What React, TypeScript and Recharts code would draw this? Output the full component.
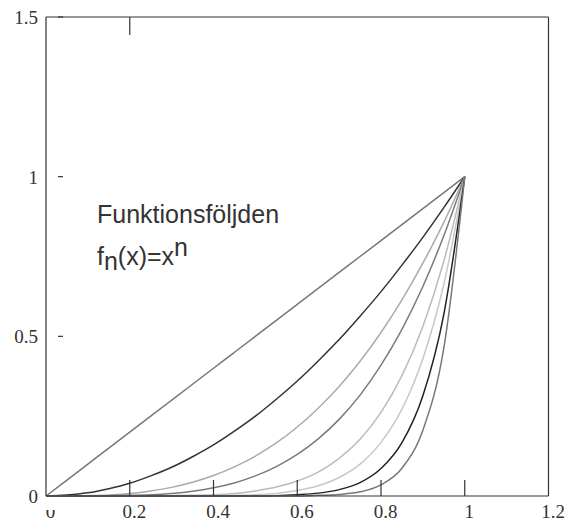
import React from 'react';
import { LineChart, Line, XAxis, YAxis } from 'recharts';

// sample points along x, and f_n(x)
const xs = [0, 0.05, 0.1, 0.15, 0.2, 0.25, 0.3, 0.35, 0.4, 0.45, 0.5, 0.55, 0.6, 0.65, 0.7, 0.75, 0.8, 0.85, 0.9, 0.95, 1];
const f1 = [0, 0.05, 0.1, 0.15, 0.2, 0.25, 0.3, 0.35, 0.4, 0.45, 0.5, 0.55, 0.6, 0.65, 0.7, 0.75, 0.8, 0.85, 0.9, 0.95, 1];
const f2 = [0, 0.003, 0.01, 0.023, 0.04, 0.063, 0.09, 0.123, 0.16, 0.203, 0.25, 0.303, 0.36, 0.423, 0.49, 0.563, 0.64, 0.723, 0.81, 0.903, 1];
const f3 = [0, 0, 0.001, 0.003, 0.008, 0.016, 0.027, 0.043, 0.064, 0.091, 0.125, 0.166, 0.216, 0.275, 0.343, 0.422, 0.512, 0.614, 0.729, 0.857, 1];
const f4 = [0, 0, 0, 0.001, 0.002, 0.004, 0.008, 0.015, 0.026, 0.041, 0.063, 0.092, 0.13, 0.179, 0.24, 0.316, 0.41, 0.522, 0.656, 0.815, 1];
const f6 = [0, 0, 0, 0, 0, 0, 0.001, 0.002, 0.004, 0.008, 0.016, 0.028, 0.047, 0.075, 0.118, 0.178, 0.262, 0.377, 0.531, 0.735, 1];
const f8 = [0, 0, 0, 0, 0, 0, 0, 0, 0.001, 0.002, 0.004, 0.008, 0.017, 0.032, 0.058, 0.1, 0.168, 0.272, 0.43, 0.663, 1];
const f11 = [0, 0, 0, 0, 0, 0, 0, 0, 0, 0, 0, 0.001, 0.004, 0.009, 0.02, 0.042, 0.086, 0.167, 0.314, 0.569, 1];
const f15 = [0, 0, 0, 0, 0, 0, 0, 0, 0, 0, 0, 0, 0, 0.002, 0.005, 0.013, 0.035, 0.087, 0.206, 0.463, 1];

const xTicks = [0, 0.2, 0.4, 0.6, 0.8, 1, 1.2];
const yTicks = [0, 0.5, 1, 1.5];

const series = [
  { key: 'f1', values: f1, color: '#777777' },
  { key: 'f2', values: f2, color: '#333333' },
  { key: 'f3', values: f3, color: '#aaaaaa' },
  { key: 'f4', values: f4, color: '#7a7a7a' },
  { key: 'f6', values: f6, color: '#bbbbbb' },
  { key: 'f8', values: f8, color: '#c8c8c8' },
  { key: 'f11', values: f11, color: '#222222' },
  { key: 'f15', values: f15, color: '#777777' },
];

const rows = xs.map((x, i) => {
  const row: Record<string, number> = { x };
  series.forEach((s) => (row[s.key] = s.values[i]));
  return row;
});

const AXIS = '#333';
const SERIF = '"Liberation Serif", "Times New Roman", serif';
const SANS = '"Liberation Sans", Arial, sans-serif';

const BottomTick = (props: any) => {
  const { x, y, payload } = props;
  const v = payload.value;
  const inner = v > 0 && v < 1.2;
  return (
    <g>
      {inner && <line x1={x} y1={y} x2={x} y2={y - 16} stroke={AXIS} strokeWidth={1.2} />}
      {v === 0 && (
        <defs>
          <clipPath id="zeroClip">
            <rect x={x - 20} y={y + 14} width={40} height={20} />
          </clipPath>
        </defs>
      )}
      <text
        x={x + 4.5}
        y={y + 22}
        textAnchor="middle"
        fontFamily={SERIF}
        fontSize={19}
        fill="#333"
        clipPath={v === 0 ? 'url(#zeroClip)' : undefined}
      >
        {v}
      </text>
    </g>
  );
};

const LeftTick = (props: any) => {
  const { x, y, payload } = props;
  const v = payload.value;
  return (
    <g>
      {v > 0 && <line x1={x + 12} y1={y} x2={x + 17} y2={y} stroke={AXIS} strokeWidth={1.2} />}
      <text x={x - 8} y={y + 7} textAnchor="end" fontFamily={SERIF} fontSize={19} fill="#333">
        {v}
      </text>
    </g>
  );
};

const TopTick = (props: any) => {
  const { x, y } = props;
  return <line x1={x} y1={y} x2={x} y2={y + 18} stroke={AXIS} strokeWidth={1.2} />;
};

const RightTick = (props: any) => {
  const { x, y } = props;
  return <line x1={x} y1={y} x2={x - 16} y2={y} stroke={AXIS} strokeWidth={1.2} />;
};

export default function App() {
  return (
    <div style={{ position: 'relative', width: 564, height: 514 }}>
      <LineChart width={564} height={514} data={rows} margin={{ top: 0, right: 0, left: 0, bottom: 0 }}>
        <XAxis
          dataKey="x"
          type="number"
          domain={[0, 1.2]}
          ticks={xTicks}
          interval={0}
          height={26}
          tickSize={0}
          tickMargin={0}
          tickLine={false}
          axisLine={{ stroke: AXIS, strokeWidth: 1.2 }}
          tick={<BottomTick />}
        />
        <XAxis
          xAxisId="top"
          orientation="top"
          dataKey="x"
          type="number"
          domain={[0, 1.2]}
          ticks={[0.2]}
          interval={0}
          height={9}
          tickSize={0}
          tickMargin={0}
          tickLine={false}
          axisLine={{ stroke: AXIS, strokeWidth: 1.2 }}
          tick={<TopTick />}
        />
        <YAxis
          type="number"
          domain={[0, 1.5]}
          ticks={yTicks}
          interval={0}
          width={38}
          tickSize={0}
          tickMargin={0}
          tickLine={false}
          axisLine={{ stroke: AXIS, strokeWidth: 1.2 }}
          tick={<LeftTick />}
        />
        <YAxis
          yAxisId="right"
          orientation="right"
          type="number"
          domain={[0, 1.5]}
          ticks={[1]}
          interval={0}
          width={23.5}
          tickSize={0}
          tickMargin={0}
          tickLine={false}
          axisLine={{ stroke: AXIS, strokeWidth: 1.2 }}
          tick={<RightTick />}
        />
        {series.map((s) => (
          <Line
            key={s.key}
            dataKey={s.key}
            type="monotone"
            stroke={s.color}
            strokeWidth={1.5}
            dot={false}
            activeDot={false}
            isAnimationActive={false}
          />
        ))}
      </LineChart>
      <svg
        width={564}
        height={514}
        style={{ position: 'absolute', left: 0, top: 0, pointerEvents: 'none' }}
      >
        <text x={89} y={215} fontFamily={SANS} fontSize={25} fill="#333">
          Funktionsföljden
        </text>
        <text x={89} y={257} fontFamily={SANS} fontSize={25} fill="#333">
          f<tspan dy={5}>n</tspan>
          <tspan dy={-5}>(x)=x</tspan>
          <tspan dy={-9}>n</tspan>
        </text>
      </svg>
    </div>
  );
}
